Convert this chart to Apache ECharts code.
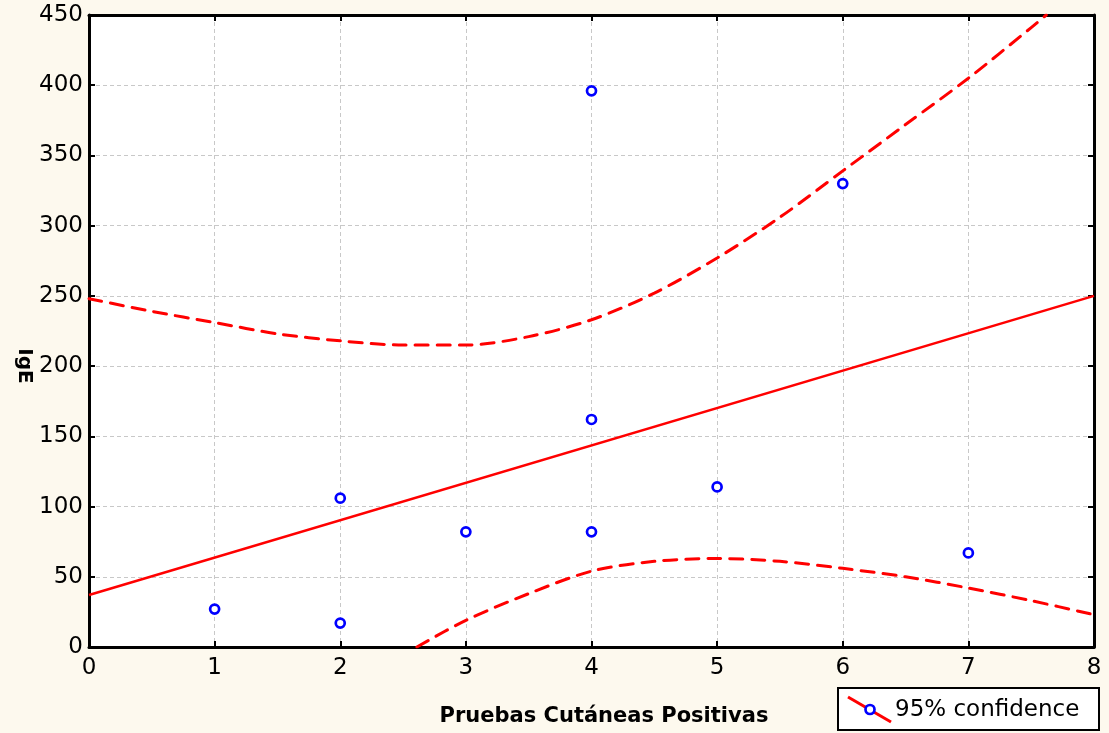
<!DOCTYPE html>
<html>
<head>
<meta charset="utf-8">
<title>IgE vs Pruebas Cutáneas Positivas</title>
<script src="https://cdn.jsdelivr.net/npm/echarts@6/dist/echarts.min.js"></script>
<style>
  html, body { margin: 0; padding: 0; background: #fdf9ee; }
  #chart { width: 1109px; height: 733px; }
</style>
</head>
<body>
<div id="chart"></div>
<script>
// Observed values: number of positive skin tests vs IgE
const tests = [1, 2, 2, 3, 4, 4, 4, 5, 6, 7];
const ige   = [27, 17, 106, 82, 82, 162, 396, 114, 330, 67];

// Fitted regression line (end points)
const fitX = [0, 8];
const fitY = [37, 250];

// 95% confidence band, upper branch
const upperX = [0, 0.5, 1, 1.5, 2, 2.5, 3, 3.5, 4, 4.5, 5, 5.5, 6, 6.5, 7, 7.5, 7.62];
const upperY = [248, 239, 231, 223, 218, 215, 215, 221, 233, 252, 277, 306, 339, 372, 405, 441, 450];

// 95% confidence band, lower branch
const lowerX = [2.61, 3, 3.5, 4, 4.5, 5, 5.5, 6, 6.5, 7, 7.5, 8];
const lowerY = [0, 19, 38, 54, 61, 63, 61, 56, 50, 42, 33, 23];

// Axis ranges and tick steps
const xRange = { min: 0, max: 8, step: 1 };
const yRange = { min: 0, max: 450, step: 50 };

const xTitle = 'Pruebas Cutáneas Positivas';
const yTitle = 'IgE';
const legendText = '95% confidence';

const pairs = (xs, ys) => xs.map((x, i) => [x, ys[i]]);

const RED = '#ff0000';
const BLUE = '#0000ff';
const FONT = '"DejaVu Sans", "Liberation Sans", Arial, sans-serif';

const axisLine = { show: true, onZero: false, lineStyle: { color: '#000', width: 3 } };
const axisTick = { show: true, inside: true, length: 6, lineStyle: { color: '#000', width: 2 } };
const gridLine = { show: true, lineStyle: { color: '#c8c8c8', width: 1, type: [4, 3] } };
const bandStyle = { color: RED, width: 3, type: [13, 9], cap: 'round' };

const chart = echarts.init(document.getElementById('chart'), null, { renderer: 'canvas' });

chart.setOption({
  animation: false,
  backgroundColor: '#fdf9ee',
  grid: {
    left: 89, right: 15, top: 15, bottom: 86,
    show: true, backgroundColor: '#ffffff', borderWidth: 0
  },
  xAxis: [
    {
      type: 'value', position: 'bottom',
      min: xRange.min, max: xRange.max, interval: xRange.step,
      axisLine, axisTick,
      axisLabel: { color: '#000', fontFamily: FONT, fontSize: 23, margin: 10 },
      splitLine: gridLine
    },
    {
      type: 'value', position: 'top',
      min: xRange.min, max: xRange.max, interval: xRange.step,
      axisLine, axisTick,
      axisLabel: { show: false },
      splitLine: { show: false }
    }
  ],
  yAxis: [
    {
      type: 'value', position: 'left',
      min: yRange.min, max: yRange.max, interval: yRange.step,
      axisLine, axisTick,
      axisLabel: { color: '#000', fontFamily: FONT, fontSize: 23, margin: 6 },
      splitLine: gridLine
    },
    {
      type: 'value', position: 'right',
      min: yRange.min, max: yRange.max, interval: yRange.step,
      axisLine, axisTick,
      axisLabel: { show: false },
      splitLine: { show: false }
    }
  ],
  series: [
    {
      name: 'fit', type: 'line',
      data: pairs(fitX, fitY),
      showSymbol: false, symbol: 'none',
      lineStyle: { color: RED, width: 2.5 },
      clip: true, z: 3
    },
    {
      name: 'upper', type: 'line',
      data: pairs(upperX, upperY),
      showSymbol: false, symbol: 'none',
      smooth: 0.3,
      lineStyle: bandStyle,
      clip: true, z: 3
    },
    {
      name: 'lower', type: 'line',
      data: pairs(lowerX, lowerY),
      showSymbol: false, symbol: 'none',
      smooth: 0.3,
      lineStyle: bandStyle,
      clip: true, z: 3
    },
    {
      name: 'IgE', type: 'scatter',
      data: pairs(tests, ige),
      symbol: 'circle', symbolSize: 9,
      itemStyle: { color: '#ffffff', borderColor: BLUE, borderWidth: 2.7, opacity: 1 },
      z: 5
    }
  ],
  graphic: [
    {
      type: 'text', x: 604, y: 717,
      style: {
        text: xTitle, fill: '#000',
        font: 'bold 21px ' + FONT,
        align: 'center', verticalAlign: 'middle'
      }
    },
    {
      type: 'text', x: 24, y: 366, rotation: -Math.PI / 2,
      style: {
        text: yTitle, fill: '#000',
        font: 'bold 20px ' + FONT,
        align: 'center', verticalAlign: 'middle'
      }
    },
    {
      type: 'group', x: 838, y: 688,
      children: [
        {
          type: 'rect',
          shape: { x: 0, y: 0, width: 261, height: 42 },
          style: { fill: '#ffffff', stroke: '#000', lineWidth: 2 }
        },
        {
          type: 'line',
          shape: { x1: 10, y1: 9, x2: 53, y2: 34 },
          style: { stroke: RED, lineWidth: 3 }
        },
        {
          type: 'circle',
          shape: { cx: 32, cy: 21.5, r: 4.5 },
          style: { fill: '#ffffff', stroke: BLUE, lineWidth: 2.7 }
        },
        {
          type: 'text', x: 57, y: 22,
          style: {
            text: legendText, fill: '#000',
            font: '23px ' + FONT,
            align: 'left', verticalAlign: 'middle'
          }
        }
      ]
    }
  ]
});
</script>
</body>
</html>
